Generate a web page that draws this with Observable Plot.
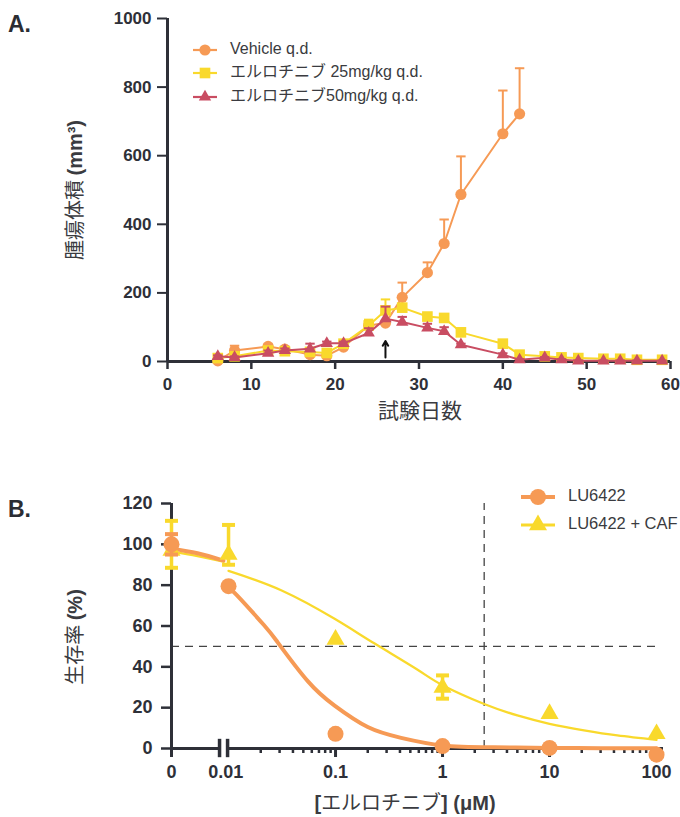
<!DOCTYPE html>
<html><head><meta charset="utf-8">
<script src="https://cdn.jsdelivr.net/npm/d3@7"></script>
<script src="https://cdn.jsdelivr.net/npm/@observablehq/plot@0.6"></script>
<style>
html,body{margin:0;padding:0;background:#fff;}
#wrap{position:relative;width:680px;height:817px;overflow:hidden;background:#fff;}
#wrap > svg{position:absolute;left:0;}
[aria-label$="tick label"] text{font-weight:bold;}
</style></head><body><div id="wrap"></div>
<script>
// ---------------- Panel A data ----------------
const seriesNamesA = ["Vehicle q.d.", "エルロチニブ 25mg/kg q.d.", "エルロチニブ50mg/kg q.d."];
const daysVehicle  = [6, 8, 12, 14, 17, 19, 21, 24, 26, 28, 31, 33, 35, 40, 42];
const vehicleMean  = [2, 32, 44, 36, 20, 17, 42, 105, 112, 187, 259, 344, 487, 664, 722];
const vehicleUpper = [4, 46, 50, 40, 24, 20, 48, 118, 120, 230, 289, 414, 598, 790, 855];
const daysErlotinib = [6, 8, 12, 14, 17, 19, 21, 24, 26, 28, 31, 33, 35, 40, 42, 45, 47, 49, 52, 54, 56, 59];
const erl25Mean  = [10, 15, 32, 30, 28, 25, 52, 105, 149, 157, 131, 127, 85, 52, 20, 15, 12, 10, 8, 8, 5, 5];
const erl25Upper = [14, 20, 40, 36, 36, 30, 60, 122, 181, 165, 140, 133, 90, 57, 24, 18, 15, 13, 10, 10, 7, 7];
const erl50Mean  = [15, 12, 24, 32, 37, 53, 53, 83, 125, 115, 98, 88, 49, 20, 5, 11, 5, 2, 2, 2, 2, 2];
const erl50Upper = [18, 15, 32, 38, 52, 58, 58, 97, 160, 130, 110, 100, 52, 24, 7, 13, 7, 3, 3, 3, 3, 3];
const xTicksA = [0, 10, 20, 30, 40, 50, 60];
const yTicksA = [0, 200, 400, 600, 800, 1000];
const arrowDay = [26], arrowFrom = [12], arrowTo = [60];

// ---------------- Panel B data ----------------
const seriesNamesB = ["LU6422", "LU6422 + CAF"];
const concB = [0, 0.01, 0.1, 1, 10, 100];
const luMean  = [100, 79.5, 7.2, 1.2, 0.3, -3];
const cafMean = [97, 95, 53.4, 29.8, 17, 7.2];
const luErrConc = [0], luErrLo = [95], luErrHi = [105];
const cafErrConc = [0, 0.01, 1], cafErrLo = [88.5, 90, 24.4], cafErrHi = [111.5, 109.5, 35.8];
// fitted curves; left segment = 0..0.01 before the axis break
const luCurveLeftConc = [0, 0.005, 0.01], luCurveLeftY = [98, 95.6, 92];
const cafCurveLeftConc = [0, 0.005, 0.01], cafCurveLeftY = [96.4, 94.2, 91.5];
const luCurveConc = [0.01, 0.012, 0.0214, 0.0288, 0.055, 0.098, 0.2, 0.41, 1, 3, 10, 30, 100];
const luCurveY    = [78.5, 75, 60.5, 52, 33, 21, 10.5, 5.2, 1.5, 0.6, 0.3, 0.15, 0.1];
const cafCurveConc = [0.01, 0.031, 0.098, 0.23, 0.575, 1, 2.45, 5, 10, 21, 43, 100];
const cafCurveY    = [87, 77.5, 63.5, 51.5, 38.8, 31, 21.8, 16.2, 12.1, 8.9, 6.4, 4.2];
const refLineY = [50];
const refLineConc = [2.45];
const xTickLabelsB = ["0", "0.01", "0.1", "1", "10", "100"];
const yTicksB = [0, 20, 40, 60, 80, 100, 120];

// ---------------- style ----------------
const ink = "#2E3038";
const cOrange = "#F69A55", cYellow = "#F9D92C", cRed = "#C94D62";
const FONT = '"Liberation Sans", Arial, "Noto Sans CJK JP", sans-serif';
const CJK = '"Noto Sans CJK JP", sans-serif';
const wrap = document.getElementById("wrap");

const capSym = {draw(ctx, size) { const w = Math.sqrt(size / Math.PI); ctx.moveTo(-w, 0); ctx.lineTo(w, 0); }};

// ---------------- Panel A ----------------
const rowsOf = (days, mean, upper) => days.map((d, i) => ({day: d, mean: mean[i], upper: upper[i]}));
const sVeh = rowsOf(daysVehicle, vehicleMean, vehicleUpper);
const s25 = rowsOf(daysErlotinib, erl25Mean, erl25Upper);
const s50 = rowsOf(daysErlotinib, erl50Mean, erl50Upper);
const arrowRows = arrowDay.map((d, i) => ({day: d, from: arrowFrom[i], to: arrowTo[i]}));

function seriesA(rows, color, symbol, r) {
  return [
    Plot.line(rows, {x: "day", y: "mean", stroke: color, strokeWidth: 2}),
    Plot.ruleX(rows, {x: "day", y1: "mean", y2: "upper", stroke: color, strokeWidth: 2}),
    Plot.dot(rows, {x: "day", y: "upper", symbol: capSym, r: 4.7, stroke: color, strokeWidth: 2, fill: "none"}),
    Plot.dot(rows, {x: "day", y: "mean", symbol, r, fill: color, stroke: "none"})
  ];
}

const plotA = Plot.plot({
  width: 680, height: 430,
  marginLeft: 167, marginRight: 10, marginTop: 18, marginBottom: 69,
  x: {domain: [0, 60]},
  y: {domain: [0, 1000]},
  style: {fontFamily: FONT, color: ink, background: "transparent", overflow: "visible"},
  marks: [
    Plot.axisX({ticks: xTicksA, tickFormat: d3.format("d"), tickSize: 8, tickPadding: 8, fontSize: 17, fontWeight: "bold", strokeWidth: 2.5, label: null}),
    Plot.axisY({ticks: yTicksA, tickFormat: d3.format("d"), tickSize: 10, tickPadding: 6, fontSize: 17, fontWeight: "bold", strokeWidth: 2, label: null}),
    Plot.ruleY([0], {stroke: ink, strokeWidth: 3}),
    Plot.ruleX([0], {stroke: ink, strokeWidth: 3}),
    ...seriesA(sVeh, cOrange, "circle", 5.6),
    ...seriesA(s25, cYellow, "square", 6),
    ...seriesA(s50, cRed, "triangle", 4.6),
    Plot.arrow(arrowRows, {x1: "day", x2: "day", y1: "from", y2: "to", stroke: "#111", strokeWidth: 2, headLength: 8})
  ]
});
plotA.style.top = "0px";
wrap.appendChild(plotA);

// ---------------- Panel B ----------------
const U_ZERO = -2.533, U_BREAK_L = -2.084, U_BREAK_R = -2.009, U_LEFT_END = -2.047, U_MAX = 2.065;
const posLog = c => c === 0 ? U_ZERO : Math.log10(c);
const posLeft = c => U_ZERO + (c / 0.01) * (U_LEFT_END - U_ZERO);

const ptsLU = concB.map((c, i) => ({u: posLog(c), y: luMean[i]}));
const ptsCAF = concB.map((c, i) => ({u: posLog(c), y: cafMean[i]}));
const errLU = luErrConc.map((c, i) => ({u: posLog(c), lo: luErrLo[i], hi: luErrHi[i]}));
const errCAF = cafErrConc.map((c, i) => ({u: posLog(c), lo: cafErrLo[i], hi: cafErrHi[i]}));
const curveLULeft = luCurveLeftConc.map((c, i) => ({u: posLeft(c), y: luCurveLeftY[i]}));
const curveCAFLeft = cafCurveLeftConc.map((c, i) => ({u: posLeft(c), y: cafCurveLeftY[i]}));
const curveLU = luCurveConc.map((c, i) => ({u: posLog(c), y: luCurveY[i]}));
const curveCAF = cafCurveConc.map((c, i) => ({u: posLog(c), y: cafCurveY[i]}));

const majorU = [U_ZERO, -1, 0, 1, 2];
const labelOfU = new Map(majorU.map((u, i) => [u, xTickLabelsB[i === 0 ? 0 : i + 1]]));
const minorU = [];
for (let d = -2; d <= 1; d++) for (let k = 2; k <= 9; k++) minorU.push(Math.log10(k) + d);

function errMarks(rows, color) {
  return [
    Plot.ruleX(rows, {x: "u", y1: "lo", y2: "hi", stroke: color, strokeWidth: 3.5}),
    Plot.dot(rows, {x: "u", y: "lo", symbol: capSym, r: 6.5, stroke: color, strokeWidth: 4, fill: "none"}),
    Plot.dot(rows, {x: "u", y: "hi", symbol: capSym, r: 6.5, stroke: color, strokeWidth: 4, fill: "none"})
  ];
}

const plotB = Plot.plot({
  width: 680, height: 377,
  marginLeft: 171, marginRight: 17, marginTop: 63, marginBottom: 69,
  x: {type: "linear", domain: [U_ZERO, U_MAX]},
  y: {domain: [0, 120]},
  style: {fontFamily: FONT, color: ink, background: "transparent", overflow: "visible"},
  marks: [
    Plot.ruleY(refLineY, {x1: U_ZERO, x2: posLog(100), stroke: "#444", strokeWidth: 1.3, strokeDasharray: "8,6"}),
    Plot.ruleX(refLineConc.map(posLog), {y1: 0, y2: 120, stroke: "#444", strokeWidth: 1.3, strokeDasharray: "8,6"}),
    Plot.axisY({ticks: yTicksB, tickSize: 10, tickPadding: 9, fontSize: 18, fontWeight: "bold", strokeWidth: 2.5, label: null}),
    Plot.axisX({ticks: majorU, tickFormat: u => labelOfU.get(u), tickSize: 9, tickPadding: 8, fontSize: 18, fontWeight: "bold", strokeWidth: 3, label: null}),
    Plot.axisX({ticks: [U_LEFT_END + 0.02], tickFormat: () => xTickLabelsB[1], tickSize: 0, tickPadding: 17, fontSize: 18, fontWeight: "bold", label: null}),
    Plot.axisX({ticks: minorU, tickFormat: () => "", tickSize: 5, strokeWidth: 2.5, label: null}),
    Plot.ruleX([U_ZERO], {y1: 0, y2: 120, stroke: ink, strokeWidth: 3}),
    Plot.ruleY([0], {x1: U_ZERO, x2: U_BREAK_L, stroke: ink, strokeWidth: 3}),
    Plot.ruleY([0], {x1: U_BREAK_R, x2: U_MAX, stroke: ink, strokeWidth: 3}),
    Plot.ruleX([U_BREAK_L, U_BREAK_R], {y1: -4.5, y2: 4.5, stroke: ink, strokeWidth: 3.5}),
    Plot.line(curveCAFLeft, {x: "u", y: "y", stroke: cYellow, strokeWidth: 2.3, curve: "natural"}),
    Plot.line(curveCAF, {x: "u", y: "y", stroke: cYellow, strokeWidth: 2.3, curve: "natural"}),
    Plot.line(curveLULeft, {x: "u", y: "y", stroke: cOrange, strokeWidth: 4, curve: "natural"}),
    Plot.line(curveLU, {x: "u", y: "y", stroke: cOrange, strokeWidth: 4, curve: "natural"}),
    ...errMarks(errCAF, cYellow),
    Plot.dot(ptsCAF, {x: "u", y: "y", symbol: "triangle", r: 6.7, fill: cYellow, stroke: "none"}),
    ...errMarks(errLU, cOrange),
    Plot.dot(ptsLU, {x: "u", y: "y", symbol: "circle", r: 8, fill: cOrange, stroke: "none"})
  ]
});
plotB.style.top = "440px";
wrap.appendChild(plotB);

// ---------------- overlay: panel letters, axis titles, legends ----------------
const ov = d3.select(wrap).append("svg").attr("width", 680).attr("height", 817).style("top", "0px")
  .style("font-family", FONT);

ov.append("text").attr("x", 8).attr("y", 32).attr("font-size", 23).attr("font-weight", "bold").attr("fill", "#2b2d33").text("A.");
ov.append("text").attr("x", 8).attr("y", 517).attr("font-size", 23).attr("font-weight", "bold").attr("fill", "#2b2d33").text("B.");

function title(x, y, rotate, parts, fs) {
  const t = ov.append("text")
    .attr("transform", `translate(${x},${y}) rotate(${rotate})`)
    .attr("text-anchor", "middle").attr("dominant-baseline", "middle")
    .attr("font-size", fs).attr("fill", "#3a3b40");
  for (const [s, bold] of parts) {
    t.append("tspan").attr("font-weight", bold ? "bold" : "normal")
      .attr("font-family", bold ? FONT : CJK).text(s);
  }
}
title(77, 190, -90, [["腫瘍体積 ", false], ["(mm³)", true]], 20);
title(420, 412, 0, [["試験日数", false]], 21);
title(77, 637, -90, [["生存率 ", false], ["(%)", true]], 20);
title(405, 805, 0, [["[", true], ["エルロチニブ", false], ["] (μM)", true]], 20);

function legend(rows) {
  for (const r of rows) {
    const g = ov.append("g").attr("transform", `translate(${r.mx},${r.y})`);
    g.append("line").attr("x1", -r.half).attr("x2", r.half).attr("stroke", r.color).attr("stroke-width", r.lw);
    g.append("path").attr("d", d3.symbol().type(r.sym).size(Math.PI * r.r * r.r)()).attr("fill", r.color);
    ov.append("text").attr("x", r.tx).attr("y", r.y).attr("dominant-baseline", "middle")
      .attr("font-size", r.fs).attr("fill", "#3a3b40").text(r.label);
  }
}
legend([
  {mx: 205, y: 50, half: 12, lw: 2.2, r: 5.6, sym: d3.symbolCircle, color: cOrange, tx: 230, fs: 16, label: seriesNamesA[0]},
  {mx: 205, y: 73, half: 12, lw: 2.2, r: 6, sym: d3.symbolSquare, color: cYellow, tx: 230, fs: 16, label: seriesNamesA[1]},
  {mx: 205, y: 97, half: 12, lw: 2.2, r: 4.6, sym: d3.symbolTriangle, color: cRed, tx: 230, fs: 16, label: seriesNamesA[2]},
  {mx: 538, y: 497, half: 17, lw: 4, r: 8, sym: d3.symbolCircle, color: cOrange, tx: 568, fs: 16.5, label: seriesNamesB[0]},
  {mx: 538, y: 525, half: 17, lw: 3, r: 6.7, sym: d3.symbolTriangle, color: cYellow, tx: 568, fs: 16.5, label: seriesNamesB[1]}
]);
</script></body></html>
